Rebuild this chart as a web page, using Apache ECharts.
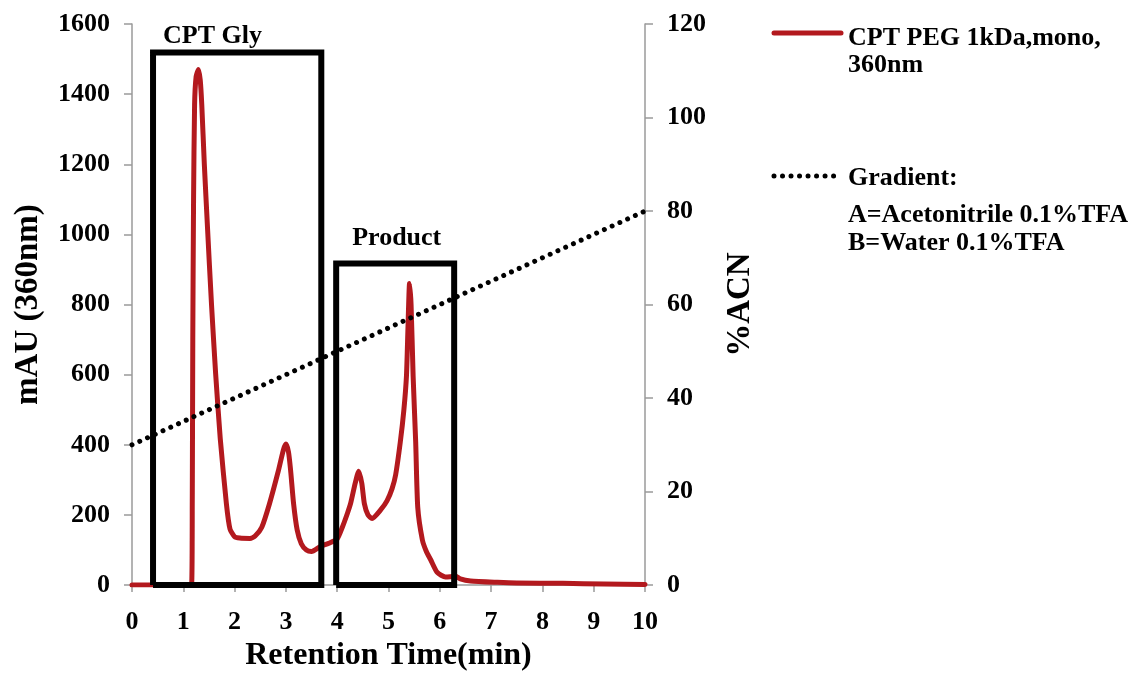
<!DOCTYPE html>
<html>
<head>
<meta charset="utf-8">
<title>CPT PEG 1kDa HPLC</title>
<script src="https://cdn.jsdelivr.net/npm/echarts@6/dist/echarts.min.js"></script>
<style>
  html, body { margin: 0; padding: 0; background: #fff; }
  #chart { width: 1141px; height: 677px; }
</style>
</head>
<body>
<div id="chart"></div>
<script>
// HPLC trace, 360 nm (retention time in min, absorbance in mAU)
var traceTime = [0, 0.5, 1.0, 1.16, 1.175, 1.185, 1.2, 1.22, 1.25, 1.295, 1.33, 1.36, 1.41, 1.47, 1.55, 1.63, 1.72, 1.84, 1.91, 2.0,
  2.1, 2.3, 2.4, 2.53, 2.68, 2.85, 2.95, 3.0, 3.05, 3.09, 3.15, 3.22, 3.3, 3.4, 3.5, 3.67, 3.85, 4.0,
  4.1, 4.2, 4.26, 4.35, 4.42, 4.48, 4.53, 4.6, 4.68, 4.85, 4.97, 5.07, 5.14, 5.23, 5.3, 5.35, 5.38, 5.41,
  5.44, 5.48, 5.53, 5.57, 5.66, 5.74, 5.82, 5.95, 6.11, 6.2, 6.3, 6.4, 6.6, 7.12, 7.5, 8.4, 9.2, 10];
var traceMau = [0, 0, 0, 0, 250, 700, 1100, 1370, 1450, 1470, 1440, 1370, 1200, 1024, 800, 604, 418, 232, 160, 138,
  134, 133, 140, 165, 232, 324, 385, 402, 380, 330, 232, 157, 118, 100, 96, 110, 120, 132,
  165, 205, 232, 290, 325, 290, 232, 200, 190, 215, 240, 275, 315, 408, 500, 596, 735, 860,
  800, 596, 408, 222, 129, 95, 73, 36, 23, 24, 26, 18, 12, 8, 6, 5, 3, 2];

// gradient, %ACN per minute
var gradientTime = [0, 1, 2, 3, 4, 5, 6, 7, 8, 9, 10];
var gradientAcn = [30, 35, 40, 45, 50, 55, 60, 65, 70, 75, 80];

// fraction boxes: [start, end, height in mAU]
var boxNames = ['CPT Gly', 'Product'];
var boxStart = [0.41, 3.98];
var boxEnd = [3.69, 6.28];
var boxTop = [1519, 917];

var xTicks = [0, 10, 1];
var leftTicks = [0, 1600, 200];
var rightTicks = [0, 120, 20];

var traceName = 'CPT PEG 1kDa,mono,';
var gradientName = 'Gradient:';

var FONT = "'Liberation Serif', 'Times New Roman', serif";
var BOLD26 = 'bold 26px ' + FONT;
var RED = '#B3191E';
var AXIS_GREY = '#9a9a9a';

function zip(xs, ys) {
  return xs.map(function (x, i) { return [x, ys[i]] })
}

function boxSeries(i, labelOffset) {
  var x0 = boxStart[i], x1 = boxEnd[i], top = boxTop[i];
  return {
    name: boxNames[i],
    type: 'line',
    z: 5,
    symbol: 'none',
    silent: true,
    lineStyle: { color: '#000', width: 6, join: 'miter' },
    data: [[x0, 0], [x0, top], [x1, top], [x1, 0], [x0, 0]],
    markPoint: {
      symbolSize: 0,
      silent: true,
      data: [{
        coord: [x0, top],
        label: {
          show: true,
          formatter: boxNames[i],
          position: 'inside',
          align: 'left',
          verticalAlign: 'middle',
          offset: labelOffset,
          color: '#000',
          fontFamily: FONT,
          fontWeight: 'bold',
          fontSize: 26
        }
      }]
    }
  }
}

function legendText(text, y) {
  return { type: 'text', style: { text: text, x: 848, y: y, verticalAlign: 'middle', font: BOLD26, fill: '#000' } }
}

function plain(v) { return String(v) }

var chart = echarts.init(document.getElementById('chart'));
chart.setOption({
  backgroundColor: '#fff',
  animation: false,
  grid: { left: 132, right: 496, top: 24, bottom: 81 },
  // legend keys drawn by hand so the icons sit on the first text line
  graphic: [
    { type: 'line', shape: { x1: 774, y1: 33, x2: 841, y2: 33 }, style: { stroke: RED, lineWidth: 5, lineCap: 'round' } },
    legendText(traceName, 38),
    legendText('360nm', 65),
    { type: 'line', shape: { x1: 774, y1: 176, x2: 834, y2: 176 }, style: { stroke: '#000', lineWidth: 5, lineDash: [0.01, 8.5], lineCap: 'round' } },
    legendText(gradientName, 178),
    legendText('A=Acetonitrile 0.1%TFA', 215),
    legendText('B=Water 0.1%TFA', 243)
  ],
  xAxis: {
    type: 'value',
    min: xTicks[0],
    max: xTicks[1],
    interval: xTicks[2],
    name: 'Retention Time(min)',
    nameLocation: 'middle',
    nameGap: 52,
    nameTextStyle: { fontFamily: FONT, fontWeight: 'bold', fontSize: 32, color: '#000' },
    axisLine: { lineStyle: { color: AXIS_GREY, width: 1.5 } },
    axisTick: { length: 7, lineStyle: { color: AXIS_GREY, width: 1.5 } },
    axisLabel: { margin: 24, formatter: plain, fontFamily: FONT, fontWeight: 'bold', fontSize: 26, color: '#000' },
    splitLine: { show: false }
  },
  yAxis: [{
    type: 'value',
    min: leftTicks[0],
    max: leftTicks[1],
    interval: leftTicks[2],
    name: 'mAU (360nm)',
    nameLocation: 'middle',
    nameRotate: 90,
    nameGap: 87,
    nameTextStyle: { fontFamily: FONT, fontWeight: 'bold', fontSize: 33, color: '#000' },
    axisLine: { show: true, lineStyle: { color: AXIS_GREY, width: 1.5 } },
    axisTick: { show: true, length: 8, lineStyle: { color: AXIS_GREY, width: 1.5 } },
    axisLabel: { margin: 22, formatter: plain, fontFamily: FONT, fontWeight: 'bold', fontSize: 26, color: '#000' },
    splitLine: { show: false }
  }, {
    type: 'value',
    position: 'right',
    min: rightTicks[0],
    max: rightTicks[1],
    interval: rightTicks[2],
    name: '%ACN',
    nameLocation: 'middle',
    nameRotate: 90,
    nameGap: 79,
    nameTextStyle: { fontFamily: FONT, fontWeight: 'bold', fontSize: 33, color: '#000' },
    axisLine: { show: true, lineStyle: { color: AXIS_GREY, width: 1.5 } },
    axisTick: { show: true, length: 8, lineStyle: { color: AXIS_GREY, width: 1.5 } },
    axisLabel: { margin: 22, formatter: plain, fontFamily: FONT, fontWeight: 'bold', fontSize: 26, color: '#000' },
    splitLine: { show: false }
  }],
  series: [
    {
      name: traceName,
      type: 'line',
      z: 3,
      symbol: 'none',
      smooth: 0.2,
      lineStyle: { color: RED, width: 5, cap: 'round', join: 'round' },
      itemStyle: { color: RED },
      data: zip(traceTime, traceMau)
    },
    {
      name: gradientName,
      type: 'line',
      yAxisIndex: 1,
      z: 4,
      symbol: 'none',
      lineStyle: { color: '#000', width: 5, type: [0.01, 8.5], cap: 'round' },
      itemStyle: { color: '#000' },
      data: zip(gradientTime, gradientAcn)
    },
    boxSeries(0, [10, -16]),
    boxSeries(1, [16, -25])
  ]
});
</script>
</body>
</html>
